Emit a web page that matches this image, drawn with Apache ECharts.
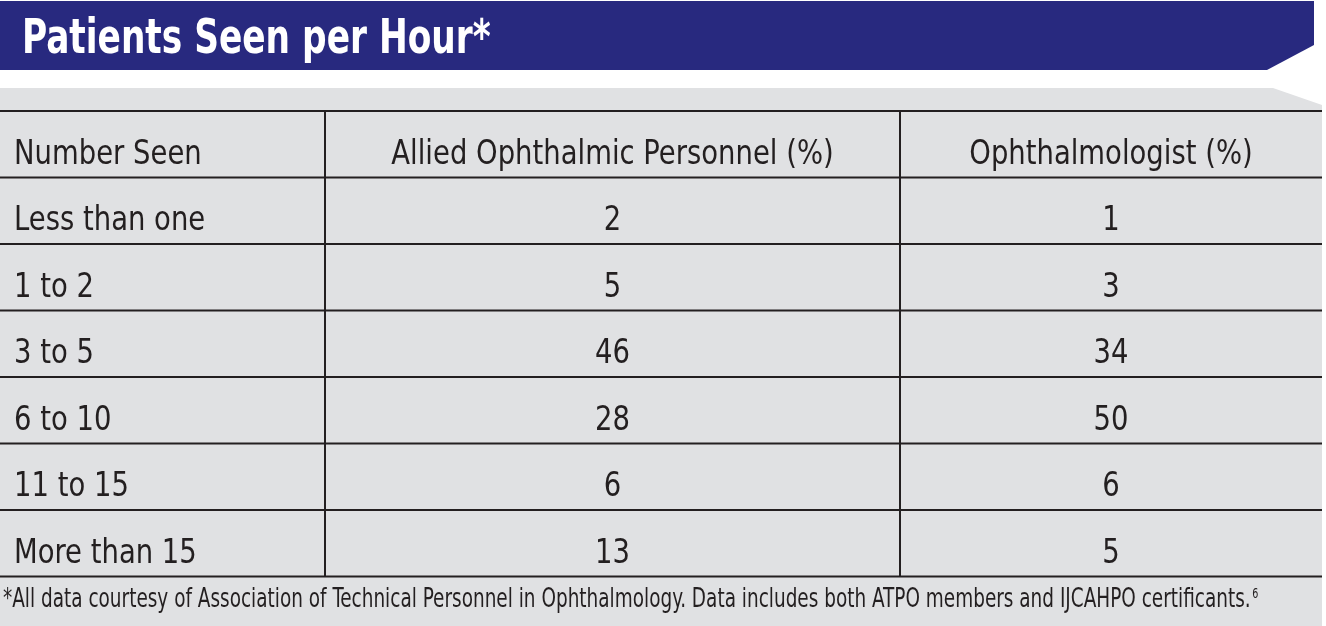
<!DOCTYPE html>
<html>
<head>
<meta charset="utf-8">
<script src="https://cdn.jsdelivr.net/npm/echarts@6/dist/echarts.min.js"></script>
<style>
html,body{margin:0;padding:0;background:#ffffff;}
#chart{width:1326px;height:626px;}
</style>
</head>
<body>
<div id="chart"></div>
<script>
const titleText = 'Patients Seen per Hour*';
const columnHeaders = ['Number Seen', 'Allied Ophthalmic Personnel (%)', 'Ophthalmologist (%)'];
const rowLabels = ['Less than one', '1 to 2', '3 to 5', '6 to 10', '11 to 15', 'More than 15'];
const alliedPct = [2, 5, 46, 28, 6, 13];
const ophthPct = [1, 3, 34, 50, 6, 5];
const footnoteText = '*All data courtesy of Association of Technical Personnel in Ophthalmology. Data includes both ATPO members and IJCAHPO certificants.';
const footnoteSup = '6';

const FONT = '"DejaVu Sans Condensed", "Liberation Sans Narrow", sans-serif';
const INK = '#231f20';
const colEdges = [0, 325, 900, 1322];

const yCats = [columnHeaders[0]].concat(rowLabels);
const tableRows = [columnHeaders.slice()].concat(rowLabels.map((l, i) => [l, String(alliedPct[i]), String(ophthPct[i])]));

const chart = echarts.init(document.getElementById('chart'), null, {renderer: 'canvas'});

const option = {
  animation: false,
  backgroundColor: '#ffffff',
  grid: {left: 0, top: 111, width: 1322, height: 465.5, containLabel: false},
  xAxis: {type: 'value', min: 0, max: 1322, show: false},
  yAxis: {type: 'category', data: yCats, inverse: true, show: false},
  graphic: [
    {type: 'polygon', z: 0, shape: {points: [[0, 88], [1273, 88], [1322, 105], [1322, 626], [0, 626]]}, style: {fill: '#e0e1e3'}},
    {type: 'polygon', z: 0, shape: {points: [[0, 1], [1314, 1], [1314, 45], [1267, 70], [0, 70]]}, style: {fill: '#28297f'}},
    {type: 'text', z: 10, x: 22, y: 41, scaleX: 0.796, style: {text: titleText, x: 0, y: 0, fill: '#ffffff', font: 'bold 48px ' + FONT, align: 'left', verticalAlign: 'middle'}},
    {type: 'text', z: 10, x: 3, y: 600, scaleX: 0.76, style: {
      text: '{a|' + footnoteText + '}{s|' + footnoteSup + '}',
      x: 0, y: 0, fill: INK, align: 'left', verticalAlign: 'middle',
      rich: {a: {fontSize: 27, lineHeight: 30, fontFamily: FONT, fill: INK}, s: {fontSize: 14, lineHeight: 14, fontFamily: FONT, fill: INK, verticalAlign: 'top', padding: [2, 0, 0, 2]}}
    }}
  ],
  series: [{
    type: 'custom',
    coordinateSystem: 'cartesian2d',
    data: yCats.map((c, i) => [0, i]),
    encode: {x: 0, y: 1},
    renderItem: function (params, api) {
      const i = params.dataIndex;
      const yc = api.coord([0, i])[1];
      const h = api.size([0, 1])[1];
      const top = yc - h / 2, bottom = yc + h / 2;
      const xs = colEdges.map(v => api.coord([v, i])[0]);
      const row = tableRows[i];
      const children = [];
      const lineStyle = {stroke: INK, lineWidth: 2};
      if (i === 0) children.push({type: 'line', shape: {x1: xs[0], y1: top, x2: xs[3], y2: top}, style: lineStyle});
      children.push({type: 'line', shape: {x1: xs[0], y1: bottom, x2: xs[3], y2: bottom}, style: lineStyle});
      children.push({type: 'line', shape: {x1: xs[1], y1: top, x2: xs[1], y2: bottom}, style: lineStyle});
      children.push({type: 'line', shape: {x1: xs[2], y1: top, x2: xs[2], y2: bottom}, style: lineStyle});
      const ty = yc + 11;
      const sx = 0.925;
      const f = '33px ' + FONT;
      children.push({type: 'text', x: xs[0] + 14, y: ty, scaleX: sx, style: {text: row[0], x: 0, y: 0, align: 'left', verticalAlign: 'middle', font: f, fill: INK}});
      children.push({type: 'text', x: (xs[1] + xs[2]) / 2, y: ty, scaleX: sx, style: {text: row[1], x: 0, y: 0, align: 'center', verticalAlign: 'middle', font: f, fill: INK}});
      children.push({type: 'text', x: (xs[2] + xs[3]) / 2, y: ty, scaleX: sx, style: {text: row[2], x: 0, y: 0, align: 'center', verticalAlign: 'middle', font: f, fill: INK}});
      return {type: 'group', children: children};
    }
  }]
};
chart.setOption(option);
</script>
</body>
</html>
